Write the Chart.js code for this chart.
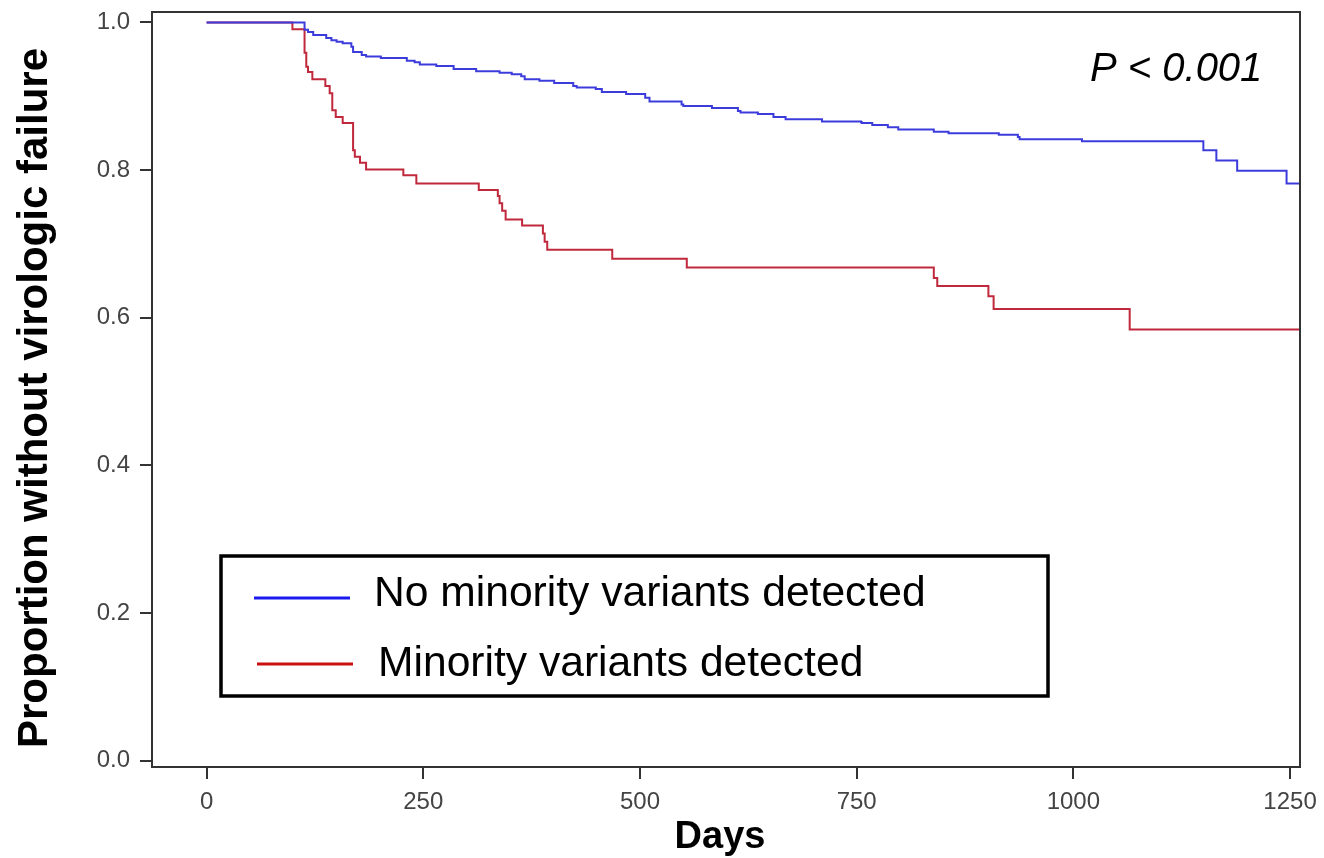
<!DOCTYPE html>
<html>
<head>
<meta charset="utf-8">
<script src="https://cdn.jsdelivr.net/npm/chart.js@4/dist/chart.umd.min.js"></script>
<style>
  html, body { margin: 0; padding: 0; background: #fff; }
  canvas { display: block; }
</style>
</head>
<body>
<canvas id="km" width="1324" height="858"></canvas>
<script>
// Kaplan-Meier steps (days, proportion without failure)
const noVariantDays = [0, 113, 117, 123, 138, 144, 150, 157, 167, 169, 179, 184, 201, 231, 240, 246, 265, 285,
  311, 338, 352, 363, 367, 384, 401, 423, 427, 449, 456, 484, 506, 511, 548, 550, 583, 613, 616, 636, 654, 668,
  710, 755, 756, 768, 786, 798, 839, 856, 914, 936, 938, 1010, 1150, 1165, 1189, 1246, 1261];
const noVariantSurv = [1.0, 0.990, 0.987, 0.983, 0.979, 0.976, 0.974, 0.972, 0.967, 0.960, 0.956, 0.954, 0.952, 0.948, 0.946, 0.943, 0.941, 0.937,
  0.934, 0.932, 0.930, 0.927, 0.923, 0.921, 0.918, 0.914, 0.912, 0.910, 0.906, 0.903, 0.898, 0.893, 0.889, 0.887, 0.884, 0.880, 0.878, 0.876, 0.872, 0.869,
  0.866, 0.865, 0.864, 0.861, 0.858, 0.855, 0.852, 0.850, 0.848, 0.845, 0.842, 0.839, 0.827, 0.813, 0.799, 0.782, 0.782];

const variantDays = [0, 99, 113, 115, 117, 122, 137, 142, 145, 149, 157, 169, 171, 177, 184, 227, 242,
  314, 336, 338, 341, 345, 364, 388, 390, 393, 468, 554, 839, 843, 902, 908, 1065, 1261];
const variantSurv = [1.0, 0.991, 0.959, 0.940, 0.933, 0.923, 0.914, 0.904, 0.881, 0.872, 0.864, 0.827, 0.818, 0.810, 0.801, 0.793, 0.782,
  0.773, 0.765, 0.755, 0.745, 0.733, 0.725, 0.714, 0.703, 0.692, 0.680, 0.668, 0.654, 0.643, 0.629, 0.612, 0.584, 0.584];

const seriesLabels = ['No minority variants detected', 'Minority variants detected'];
const xTicks = [0, 250, 500, 750, 1000, 1250];
const yTicks = [0, 0.2, 0.4, 0.6, 0.8, 1.0];
const pValueText = 'P < 0.001';
const xTitle = 'Days';
const yTitle = 'Proportion without virologic failure';

const FONT = 'Arial, "Liberation Sans", Helvetica, sans-serif';
const AXIS = '#333';

function toPoints(days, surv) {
    return days.map((d, i) => ({ x: d, y: surv[i] }));
}

// frame, axis titles, P value and the boxed legend
const decorPlugin = {
    id: 'decor',
    afterDraw(chart) {
        const { ctx, chartArea: a } = chart;
        ctx.save();
        ctx.strokeStyle = AXIS;
        ctx.lineWidth = 2;
        ctx.strokeRect(a.left, a.top, a.right - a.left, a.bottom - a.top);

        ctx.fillStyle = '#000';
        ctx.font = 'bold 38px ' + FONT;
        ctx.textAlign = 'center';
        ctx.textBaseline = 'alphabetic';
        ctx.fillText(xTitle, 720, 848);

        ctx.save();
        ctx.translate(47, 398);
        ctx.rotate(-Math.PI / 2);
        ctx.font = 'bold 42px ' + FONT;
        ctx.fillText(yTitle, 0, 0);
        ctx.restore();

        ctx.font = 'italic 40px ' + FONT;
        ctx.textAlign = 'left';
        ctx.fillText(pValueText, 1090, 81);

        // legend box
        ctx.lineWidth = 3.5;
        ctx.strokeStyle = '#000';
        ctx.strokeRect(221, 556, 827, 140);
        const rows = [
            { y: 598, x0: 254, text: 374, base: 606, color: '#1a1af0' },
            { y: 664, x0: 257, text: 378, base: 676, color: '#cc1010' }
        ];
        ctx.font = '42.6px ' + FONT;
        rows.forEach((r, i) => {
            ctx.strokeStyle = r.color;
            ctx.lineWidth = 3;
            ctx.beginPath();
            ctx.moveTo(r.x0, r.y);
            ctx.lineTo(r.x0 + 96, r.y);
            ctx.stroke();
            ctx.fillText(seriesLabels[i], r.text, r.base);
        });
        ctx.restore();
    }
};

new Chart(document.getElementById('km'), {
    type: 'line',
    data: {
        datasets: [
            {
                label: seriesLabels[0],
                data: toPoints(noVariantDays, noVariantSurv),
                borderColor: '#3c3cdc',
                borderWidth: 2,
                pointRadius: 0,
                stepped: 'before',
                fill: false
            },
            {
                label: seriesLabels[1],
                data: toPoints(variantDays, variantSurv),
                borderColor: '#c0283c',
                borderWidth: 2,
                pointRadius: 0,
                stepped: 'before',
                fill: false
            }
        ]
    },
    options: {
        responsive: false,
        devicePixelRatio: 1,
        animation: false,
        layout: { padding: { top: 12, right: 24, left: 0, bottom: 0 } },
        plugins: {
            legend: { display: false },
            tooltip: { enabled: false }
        },
        scales: {
            x: {
                type: 'linear',
                min: -63,
                max: 1261.5,
                afterBuildTicks: (scale) => { scale.ticks = xTicks.map(v => ({ value: v })); },
                afterFit: (scale) => {
                    scale.height = 91;
                    scale.paddingLeft = 0;
                    scale.paddingRight = 0;
                },
                grid: { drawOnChartArea: false, drawTicks: true, tickLength: 12, color: AXIS, lineWidth: 2 },
                border: { display: true, color: AXIS, width: 2 },
                ticks: {
                    font: { family: FONT, size: 24 },
                    color: '#444',
                    padding: 9,
                    maxRotation: 0,
                    callback: (v) => String(v)
                }
            },
            y: {
                type: 'linear',
                min: -0.0085,
                max: 1.0142,
                afterBuildTicks: (scale) => { scale.ticks = yTicks.map(v => ({ value: v })); },
                afterFit: (scale) => {
                    scale.width = 152;
                    scale.paddingTop = 0;
                    scale.paddingBottom = 0;
                },
                grid: { drawOnChartArea: false, drawTicks: true, tickLength: 12, color: AXIS, lineWidth: 2 },
                border: { display: true, color: AXIS, width: 2 },
                ticks: {
                    font: { family: FONT, size: 24 },
                    color: '#444',
                    padding: 10,
                    callback: (v) => Number(v).toFixed(1)
                }
            }
        }
    },
    plugins: [decorPlugin]
});
</script>
</body>
</html>
